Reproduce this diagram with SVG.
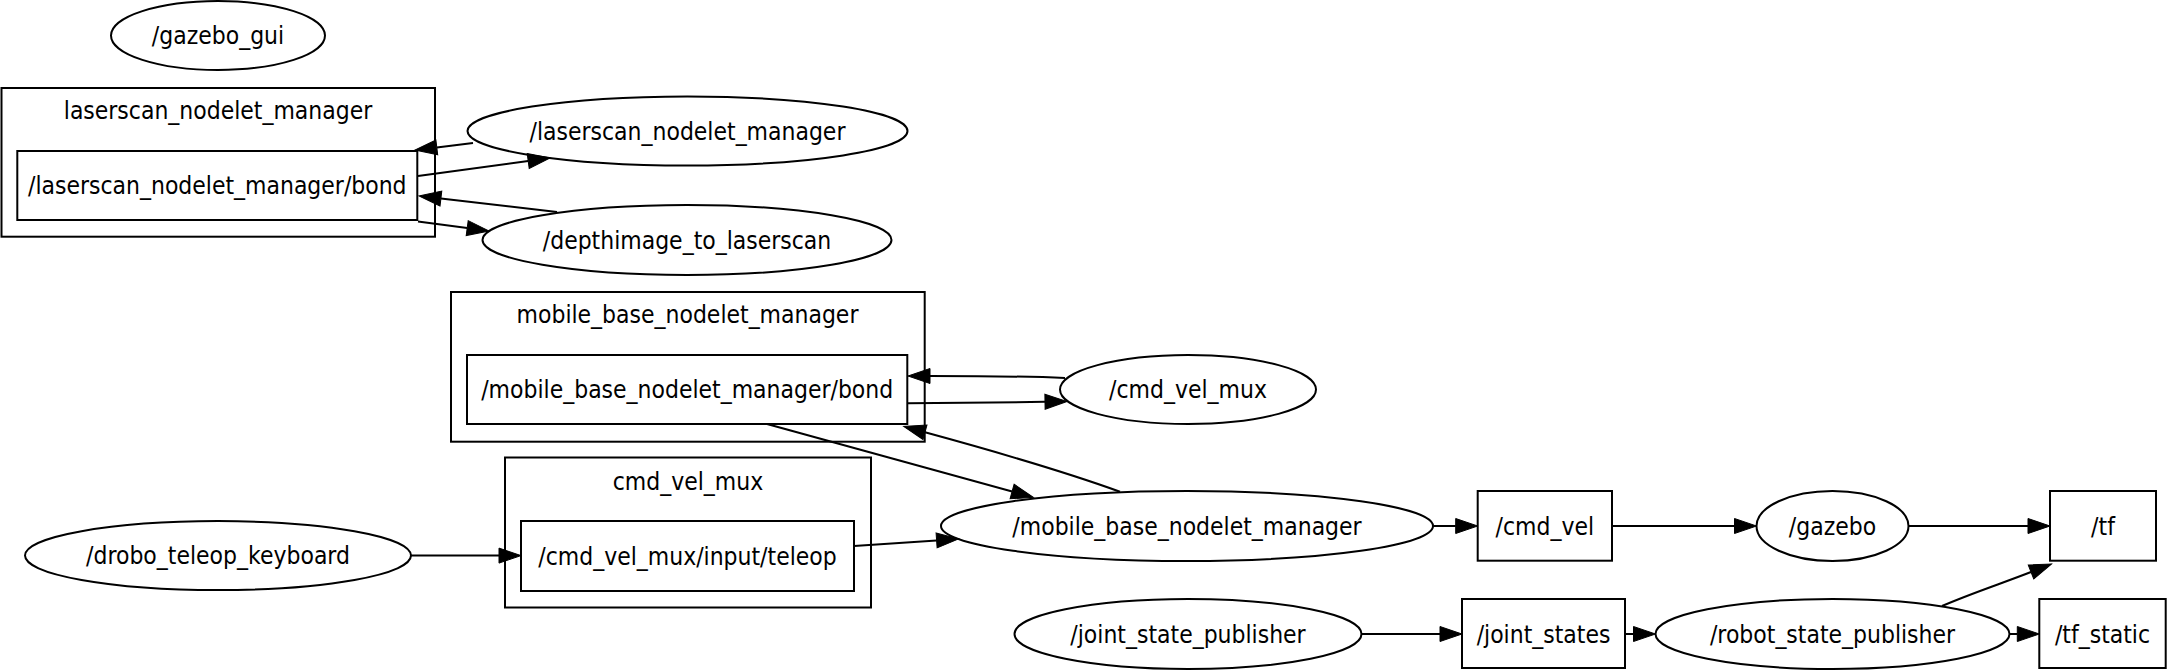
<svg xmlns="http://www.w3.org/2000/svg" width="2167" height="670" viewBox="0 0 2167 670">
<style>
.shape{fill:none;stroke:#000;stroke-width:2}
.e{fill:none;stroke:#000;stroke-width:2;marker-end:url(#ah)}
text{font-family:"DejaVu Sans","Liberation Sans",sans-serif;font-size:22px;text-anchor:middle;fill:#000}
</style>
<defs>
<marker id="ah" markerUnits="userSpaceOnUse" markerWidth="24" markerHeight="18" refX="0" refY="7.5" orient="auto" overflow="visible">
<path d="M0,0 L22,7.5 L0,15 z" fill="#000" stroke="#000" stroke-width="1"/>
</marker>
</defs>
<rect width="2167" height="670" fill="#fff"/>

<g id="cluster_laserscan_nodelet_manager">
<rect class="shape" x="1.5" y="88" width="433.5" height="148.7"/>
<text transform="matrix(1 0 0 1.1 218 119)">laserscan_nodelet_manager</text>
</g>
<g id="cluster_mobile_base_nodelet_manager">
<rect class="shape" x="451" y="292" width="473.7" height="149.7"/>
<text transform="matrix(1 0 0 1.1 687.5 322.5)">mobile_base_nodelet_manager</text>
</g>
<g id="cluster_cmd_vel_mux">
<rect class="shape" x="505" y="457.5" width="366" height="150"/>
<text transform="matrix(1 0 0 1.1 688 489.5)">cmd_vel_mux</text>
</g>

<g id="n_gazebo_gui">
<ellipse class="shape" cx="218" cy="35.5" rx="107" ry="34.5"/>
<text transform="matrix(1 0 0 1.1 218 44.2)">/gazebo_gui</text>
</g>
<g id="n_laserscan_bond">
<rect class="shape" x="17.3" y="151" width="400" height="69"/>
<text transform="matrix(1 0 0 1.1 217.3 194.3)">/laserscan_nodelet_manager/bond</text>
</g>
<g id="n_laserscan_nodelet_manager">
<ellipse class="shape" cx="687.5" cy="131" rx="220" ry="34.5"/>
<text transform="matrix(1 0 0 1.1 687.5 139.7)">/laserscan_nodelet_manager</text>
</g>
<g id="n_depthimage_to_laserscan">
<ellipse class="shape" cx="687" cy="240" rx="204.5" ry="35"/>
<text transform="matrix(1 0 0 1.1 687 248.7)">/depthimage_to_laserscan</text>
</g>
<g id="n_mobile_base_bond">
<rect class="shape" x="467" y="355" width="440.3" height="69"/>
<text transform="matrix(1 0 0 1.1 687.2 398.2)">/mobile_base_nodelet_manager/bond</text>
</g>
<g id="n_cmd_vel_mux">
<ellipse class="shape" cx="1188" cy="389.5" rx="128" ry="34.5"/>
<text transform="matrix(1 0 0 1.1 1188 398.2)">/cmd_vel_mux</text>
</g>
<g id="n_cmd_vel_mux_input_teleop">
<rect class="shape" x="521" y="521" width="333" height="70"/>
<text transform="matrix(1 0 0 1.1 687.5 564.7)">/cmd_vel_mux/input/teleop</text>
</g>
<g id="n_drobo_teleop_keyboard">
<ellipse class="shape" cx="218" cy="555.6" rx="193" ry="34.5"/>
<text transform="matrix(1 0 0 1.1 218 564.3)">/drobo_teleop_keyboard</text>
</g>
<g id="n_mobile_base_nodelet_manager">
<ellipse class="shape" cx="1187" cy="526" rx="246" ry="35"/>
<text transform="matrix(1 0 0 1.1 1187 534.7)">/mobile_base_nodelet_manager</text>
</g>
<g id="n_cmd_vel">
<rect class="shape" x="1477.7" y="491" width="134.3" height="69.7"/>
<text transform="matrix(1 0 0 1.1 1544.8 534.7)">/cmd_vel</text>
</g>
<g id="n_gazebo">
<ellipse class="shape" cx="1832.5" cy="526" rx="76" ry="35"/>
<text transform="matrix(1 0 0 1.1 1832.5 534.7)">/gazebo</text>
</g>
<g id="n_tf">
<rect class="shape" x="2050" y="491" width="106" height="69.7"/>
<text transform="matrix(1 0 0 1.1 2103 534.7)">/tf</text>
</g>
<g id="n_joint_state_publisher">
<ellipse class="shape" cx="1188" cy="634" rx="173.5" ry="35"/>
<text transform="matrix(1 0 0 1.1 1188 642.7)">/joint_state_publisher</text>
</g>
<g id="n_joint_states">
<rect class="shape" x="1462" y="599" width="163" height="69"/>
<text transform="matrix(1 0 0 1.1 1543.5 642.7)">/joint_states</text>
</g>
<g id="n_robot_state_publisher">
<ellipse class="shape" cx="1832.5" cy="634" rx="177" ry="35"/>
<text transform="matrix(1 0 0 1.1 1832.5 642.7)">/robot_state_publisher</text>
</g>
<g id="n_tf_static">
<rect class="shape" x="2039.3" y="599" width="126.4" height="69"/>
<text transform="matrix(1 0 0 1.1 2102.5 642.7)">/tf_static</text>
</g>

<g id="connectors">
<path class="e" d="M473,143 L436.8,147.4"/>
<path class="e" d="M418,176 L528.2,161"/>
<path class="e" d="M557,212 L440.9,198.5"/>
<path class="e" d="M418,221.5 L467.2,228.1"/>
<path class="e" d="M1065,378 C1020,376 970,376 930,376"/>
<path class="e" d="M908,403.3 C950,403 1000,402.5 1045,401.8"/>
<path class="e" d="M767,424 L1012.1,491.5"/>
<path class="e" d="M1120,491.7 C1060,470 990,450 925,432.3"/>
<path class="e" d="M411,555.6 L499,555.6"/>
<path class="e" d="M854,546 L936.6,540.4"/>
<path class="e" d="M1433,526 L1455.7,526"/>
<path class="e" d="M1612,526 L1734.5,526"/>
<path class="e" d="M1908.5,526 L2028,526"/>
<path class="e" d="M1361.5,634 L1440,634"/>
<path class="e" d="M1625,634 L1633.5,634"/>
<path class="e" d="M2009.5,634 L2017.3,634"/>
<path class="e" d="M1942,606 C1972,593 2003,583 2031,572"/>
</g>
</svg>
